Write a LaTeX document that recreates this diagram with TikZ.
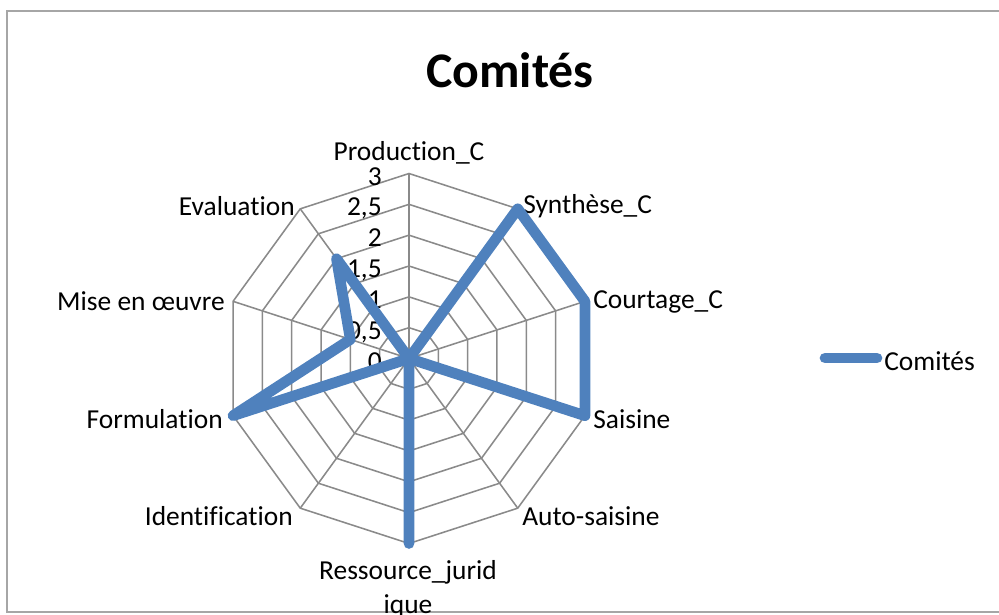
\documentclass[tikz,border=0pt]{standalone}
\usepackage{fontspec}
\setmainfont{Carlito}[Ligatures=NoCommon]
\definecolor{seriesblue}{HTML}{4F81BD}
\definecolor{gridgray}{HTML}{8A8A8A}
\definecolor{framegray}{HTML}{A6A6A6}
\tikzset{
  gridline/.style={draw=gridgray, line width=1.1},
  series/.style={draw=seriesblue, line width=7.6, line join=round, line cap=round},
  axislabel/.style={font=\fontsize{19.5}{24}\selectfont, inner sep=0},
  ticklabel/.style={font=\fontsize{19.5}{24}\selectfont, inner sep=0, anchor=base east},
}
\begin{document}
\begin{tikzpicture}[x=0.025cm, y=0.025cm]
\useasboundingbox (-409, -255.5) rectangle (590, 358.5);

% chart frame
\draw[framegray, line width=1.2] (600, 347.5) -- (-402, 347.5) -- (-402, -253.5) -- (600, -253.5);

% title
\node[font=\fontsize{35.4}{42}\selectfont\bfseries, anchor=base, inner sep=0] (title) at (101, 271) {Comités};

% grid rings
\foreach \k in {1,...,6}
  \draw[gridline] (90:\k*30.833) \foreach \a in {54,18,...,-234} { -- (\a:\k*30.833) } -- cycle;

% spokes
\foreach \a in {90,54,...,-234}
  \draw[gridline] (0,0) -- (\a:185);

% tick labels
\foreach \v/\t in {0/0, 1/{0,5}, 2/1, 3/{1,5}, 4/2, 5/{2,5}, 6/3}
  \node[ticklabel] (tick\v) at (-27, \v*30.833-11.5) {\t};

% axis labels
\node[axislabel, anchor=base] (prodC) at (0, 198.5) {Production\_C};
\node[axislabel, anchor=base west] (syntheseC) at (114, 145.5) {Synthèse\_C};
\node[axislabel, anchor=base west] (courtageC) at (184, 50.5) {Courtage\_C};
\node[axislabel, anchor=base west] (saisine) at (184, -69.5) {Saisine};
\node[axislabel, anchor=base west] (autosaisine) at (113, -166.5) {Auto-saisine};
\node[axislabel, anchor=base, align=center] (ressource) at (-1, -255) {Ressource\_jurid\\ique};
\node[axislabel, anchor=base east] (identification) at (-116, -166.5) {Identification};
\node[axislabel, anchor=base east] (formulation) at (-186, -69.5) {Formulation};
\node[axislabel, anchor=base east] (miseenoeuvre) at (-184, 48.5) {Mise en œuvre};
\node[axislabel, anchor=base east] (evaluation) at (-114, 143.5) {Evaluation};

% series
\draw[series] (90:0) -- (54:185) -- (18:185) -- (-18:185) -- (-54:0) -- (-90:185)
  -- (-126:0) -- (-162:185) -- (-198:61.67) -- (-234:123.33) -- cycle;

% legend
\coordinate (legA) at (416, 0.5);
\coordinate (legB) at (468, 0.5);
\draw[series] (legA) -- (legB);
\node[axislabel, anchor=base west] (legtext) at (475, -12) {Comités};

\end{tikzpicture}
\end{document}
